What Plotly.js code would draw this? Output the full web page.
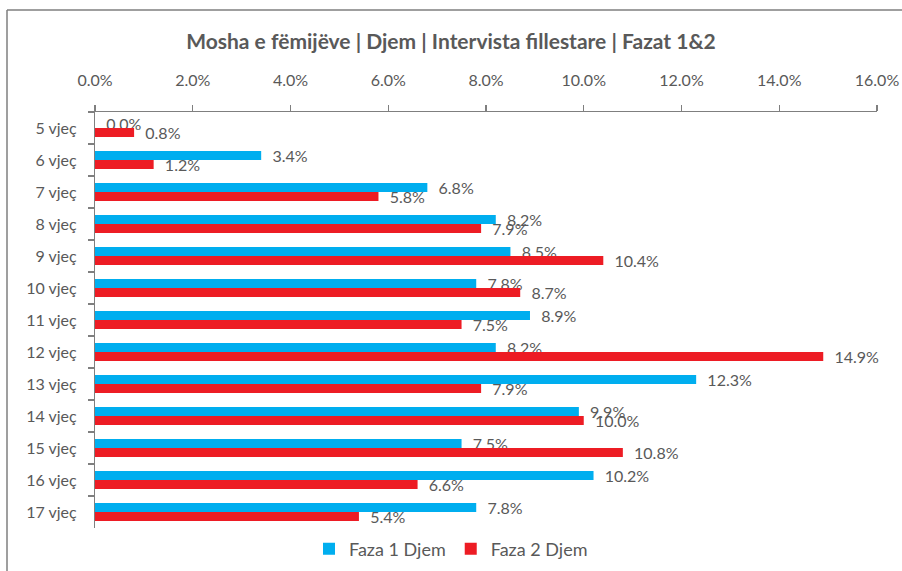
<!DOCTYPE html>
<html>
<head>
<meta charset="utf-8">
<script src="https://cdn.plot.ly/plotly-3.0.1.min.js"></script>
<style>
  html, body { margin: 0; padding: 0; background: #fff; }
  #chart { width: 902px; height: 571px; }
</style>
</head>
<body>
<div id="chart"></div>
<script>
const categories = ["5 vjeç","6 vjeç","7 vjeç","8 vjeç","9 vjeç","10 vjeç","11 vjeç","12 vjeç","13 vjeç","14 vjeç","15 vjeç","16 vjeç","17 vjeç"];
const faza1 = [0.0, 3.4, 6.8, 8.2, 8.5, 7.8, 8.9, 8.2, 12.3, 9.9, 7.5, 10.2, 7.8];
const faza2 = [0.8, 1.2, 5.8, 7.9, 10.4, 8.7, 7.5, 14.9, 7.9, 10.0, 10.8, 6.6, 5.4];
const seriesNames = ["Faza 1 Djem", "Faza 2 Djem"];
const titleText = "Mosha e fëmijëve | Djem | Intervista fillestare | Fazat 1&2";

const FONT = "Lato, 'Open Sans', sans-serif";
const GREY = "#595959";

function trace(vals, name, color) {
  return {
    type: "bar", orientation: "h",
    x: vals, y: categories, name: name,
    marker: { color: color },
    text: vals.map(v => "  " + v.toFixed(1) + "%"),
    texttemplate: "%{text}",
    textposition: "outside",
    constraintext: "none",
    cliponaxis: false,
    textfont: { family: FONT, size: 16, color: GREY },
    hoverinfo: "x+y"
  };
}

const data = [
  trace(faza1, seriesNames[0], "#00AEEF"),
  trace(faza2, seriesNames[1], "#ED1C24")
];

const L = 95, R = 25, T = 112, B = 43, W = 902, H = 571;
const pw = W - L - R, ph = H - T - B;
const px = v => (v - L) / pw;
const py = v => (H - B - v) / ph;

const layout = {
  width: W, height: H,
  margin: { l: L, r: R, t: T, b: B, pad: 0 },
  paper_bgcolor: "#fff", plot_bgcolor: "#fff",
  font: { family: FONT, color: GREY, size: 15 },
  title: {
    text: "<b>" + titleText + "</b>",
    font: { family: FONT, size: 21, color: GREY },
    x: 0.5, xref: "container", xanchor: "center",
    y: 1 - 42 / H, yref: "container", yanchor: "middle"
  },
  barmode: "group",
  bargap: 0.44,
  bargroupgap: 0,
  uniformtext: { mode: false },
  xaxis: {
    side: "top",
    range: [0, 16],
    tickvals: [0, 2, 4, 6, 8, 10, 12, 14, 16],
    ticktext: ["0.0%", "2.0%", "4.0%", "6.0%", "8.0%", "10.0%", "12.0%", "14.0%", "16.0%"],
    showgrid: false, zeroline: false,
    showline: true, linecolor: "#7f7f7f", linewidth: 1.2,
    ticks: "outside", ticklen: 6, tickcolor: "#7f7f7f", tickwidth: 1.2,
    ticklabelstandoff: 12,
    tickfont: { family: FONT, size: 16, color: GREY },
    fixedrange: true
  },
  yaxis: {
    type: "category",
    autorange: "reversed",
    showgrid: false, zeroline: false,
    showline: true, linecolor: "#7f7f7f", linewidth: 1.2,
    ticks: "outside", ticklen: 6, tickcolor: "#7f7f7f", tickwidth: 1.2,
    tickson: "boundaries",
    ticklabelstandoff: 14,
    tickfont: { family: FONT, size: 16, color: GREY },
    fixedrange: true
  },
  showlegend: true,
  legend: {
    orientation: "h",
    x: 0.5, xref: "container", xanchor: "center",
    y: 1 - 549 / H, yref: "container", yanchor: "middle",
    font: { family: FONT, size: 18, color: GREY },
    itemwidth: 30,
    traceorder: "normal"
  },
  shapes: [
    { type: "line", xref: "paper", yref: "paper", x0: px(7), x1: px(7), y0: py(10), y1: py(H + 5), line: { color: "#7f7f7f", width: 1.5 } },
    { type: "line", xref: "paper", yref: "paper", x0: px(7), x1: px(W + 5), y0: py(10), y1: py(10), line: { color: "#7f7f7f", width: 1.5 } }
  ]
};

Plotly.newPlot("chart", data, layout, { displayModeBar: false, staticPlot: true });
</script>
</body>
</html>
